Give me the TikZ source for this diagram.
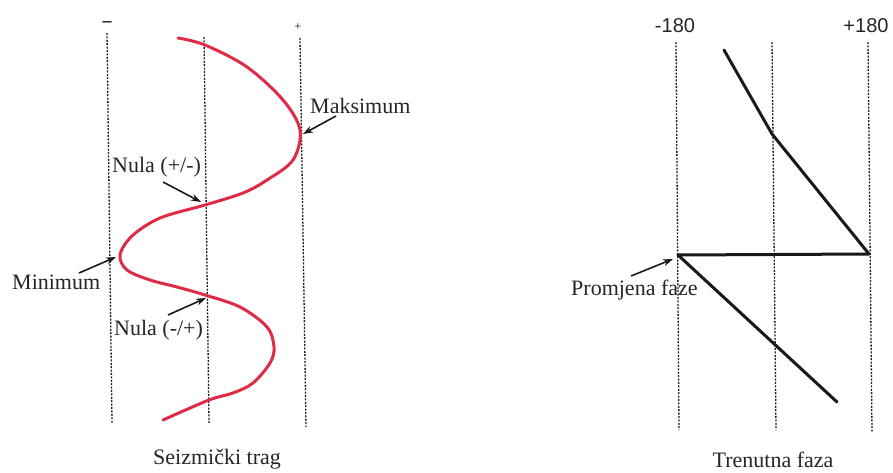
\documentclass[tikz,border=0pt]{standalone}
\usepackage{fontspec}
\setmainfont{Liberation Serif}
\newfontfamily\numfont{Liberation Sans}
\usetikzlibrary{arrows.meta}
\definecolor{tracered}{RGB}{222,44,72}
\definecolor{guidegray}{RGB}{30,30,30}
\tikzset{
  guide/.style={draw=guidegray, line width=1.3pt, dash pattern=on 2pt off 1.4pt},
  trace/.style={draw=tracered, line width=3pt, line cap=round, line join=round},
  phase/.style={draw=black!90, line width=3pt, line cap=round, line join=round},
  lbl/.style={font=\fontsize{22}{24}\selectfont, inner sep=0pt, text=black!85},
  numlbl/.style={font=\numfont\fontsize{20}{24}\selectfont, inner sep=0pt, text=black!85},
  pointer/.style={draw=black!90, line width=1.6pt, -{Stealth[length=10pt,width=7pt]}},
}
\begin{document}
\begin{tikzpicture}[x=1pt,y=-1pt]
\useasboundingbox[fill=white] (0,0) rectangle (893,473);
% ---------- left panel: guides
\coordinate (lmT) at (107,33);  \coordinate (lmB) at (112,423);
\coordinate (lzT) at (204,37);  \coordinate (lzB) at (209,423);
\coordinate (lpT) at (300,38);  \coordinate (lpB) at (306,427);
\draw[guide] (lmT) -- (lmB);
\draw[guide] (lzT) -- (lzB);
\draw[guide] (lpT) -- (lpB);
\node[font=\bfseries\fontsize{18}{20}\selectfont, inner sep=0pt] (minus) at (107,24) {\textendash};
\node[font=\fontsize{12}{14}\selectfont, inner sep=0pt] (plus) at (298,27) {+};
% red seismic trace
\draw[trace] plot[smooth, tension=0.55] coordinates {
 (178,38) (205,45) (247,67) (283,100) (300,130) (293,160) (267,180)
 (243,193) (205,205) (160,218) (132,236) (120,255) (127,270) (150,280)
 (177,287) (205,295) (240,307) (267,327) (274,347) (270,363) (253,383)
 (233,393) (209,400) (163,420)};
% labels and pointers
\node[lbl, anchor=west] (maks) at (310,106) {Maksimum};
\coordinate (maksTip) at (303,134);
\coordinate (maksTail) at (336,116);
\draw[pointer] (maksTail) -- (maksTip);
\node[lbl, anchor=west] (nula1) at (112,167) {Nula (+/-)};
\coordinate (n1Tail) at (163,182);
\coordinate (n1Tip) at (201,202);
\draw[pointer] (n1Tail) -- (n1Tip);
\node[lbl, anchor=west] (mini) at (12,282) {Minimum};
\coordinate (minTail) at (79,273);
\coordinate (minTip) at (116,257);
\draw[pointer] (minTail) -- (minTip);
\node[lbl, anchor=west] (nula2) at (114,330) {Nula (-/+)};
\coordinate (n2Tail) at (168,315);
\coordinate (n2Tip) at (206,298);
\draw[pointer] (n2Tail) -- (n2Tip);
\node[lbl] (seis) at (217,459) {Seizmički trag};
% ---------- right panel: guides
\coordinate (rmT) at (676,42);  \coordinate (rmB) at (679,430);
\coordinate (rzT) at (772,42);  \coordinate (rzB) at (776,430);
\coordinate (rpT) at (868,42);  \coordinate (rpB) at (872,432);
\draw[guide] (rmT) -- (rmB);
\draw[guide] (rzT) -- (rzB);
\draw[guide] (rpT) -- (rpB);
\node[numlbl] (m180) at (675,26) {-180};
\node[numlbl] (p180) at (866,26) {+180};
% phase line
\coordinate (ph1) at (724,50);
\coordinate (ph2) at (772,134);
\coordinate (ph3) at (869,254);
\coordinate (ph4) at (678,255);
\coordinate (ph5) at (837,402);
\draw[phase] (ph1) -- (ph2) -- (ph3) -- (ph4) -- (ph5);
\node[lbl, anchor=west] (prom) at (571,290) {Promjena faze};
\coordinate (prTail) at (631,276);
\coordinate (prTip) at (673,259);
\draw[pointer] (prTail) -- (prTip);
\node[lbl] (tren) at (773,460) {Trenutna faza};
\end{tikzpicture}
\end{document}
